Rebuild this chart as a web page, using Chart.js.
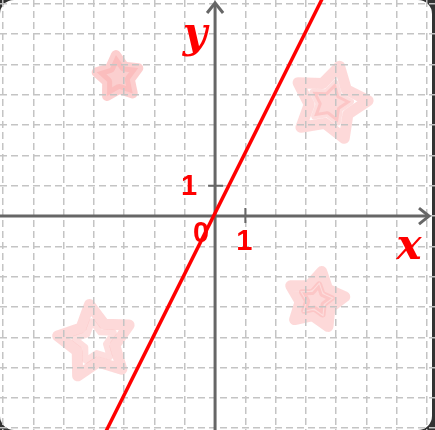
<!DOCTYPE html>
<html>
<head>
<meta charset="utf-8">
<script src="https://cdn.jsdelivr.net/npm/chart.js@4/dist/chart.umd.min.js"></script>
<style>
html,body{margin:0;padding:0;background:#fff;}
#wrap{width:435px;height:430px;}
</style>
</head>
<body>
<div id="wrap"><canvas id="c" width="435" height="430"></canvas></div>
<script>
// ---- data ----
const lineX = [-3.6, 3.6];
const lineY = [-7.1, 7.3];          // y = 2x + 0.1
const starX = [-3.2, 3.8, 3.33, -3.96];
const starY = [4.59, 3.73, -2.77, -4.16];
const tickLabels = ['0', '1', '1'];
const axisLabels = ['x', 'y'];
const xRange = [-7.1, 7.26];
const yRange = [-7.06, 7.13];

function starPath(ctx, cx, cy, R, r, rot) {
  ctx.beginPath();
  for (let i = 0; i < 10; i++) {
    const a = rot - Math.PI / 2 + i * Math.PI / 5;
    const rr = i % 2 ? r : R;
    const px = cx + rr * Math.cos(a), py = cy + rr * Math.sin(a);
    if (i === 0) ctx.moveTo(px, py); else ctx.lineTo(px, py);
  }
  ctx.closePath();
}

const bgPlugin = {
  id: 'bg',
  beforeDraw(chart) {
    const ctx = chart.ctx;
    const W = chart.width, H = chart.height;
    ctx.save();
    ctx.fillStyle = '#333';
    ctx.fillRect(0, 0, W, H);
    ctx.fillStyle = '#fff';
    ctx.beginPath();
    ctx.roundRect(0, 0, W - 3, H, 14);
    ctx.fill();
    // decorative stars (beneath grid)
    const xs = chart.scales.x, ys = chart.scales.y;
    const specs = [
      {R: 22, r: 12, rot: -0.1, kind: 'fill'},
      {R: 38, r: 21, rot: 0.25, kind: 'double'},
      {R: 29, r: 16, rot: 0.2, kind: 'double'},
      {R: 38, r: 20, rot: -0.15, kind: 'outline'}
    ];
    ctx.lineJoin = 'round';
    starX.forEach((sx, i) => {
      const cx = xs.getPixelForValue(sx), cy = ys.getPixelForValue(starY[i]);
      const s = specs[i];
      if (s.kind === 'fill') {
        starPath(ctx, cx, cy, s.R, s.r, s.rot);
        ctx.fillStyle = 'rgba(250,195,195,0.8)';
        ctx.fill();
        ctx.lineWidth = 10;
        ctx.strokeStyle = 'rgba(250,180,180,0.65)';
        ctx.stroke();
      } else {
        starPath(ctx, cx, cy, s.R, s.r, s.rot);
        ctx.lineWidth = 11;
        ctx.strokeStyle = 'rgba(250,170,170,0.45)';
        ctx.stroke();
        starPath(ctx, cx, cy, s.R * 0.55, s.r * 0.55, s.rot);
        if (s.kind === 'double') {
          ctx.fillStyle = 'rgba(250,170,170,0.45)';
          ctx.fill();
        }
        ctx.lineWidth = 6;
        ctx.strokeStyle = 'rgba(250,170,170,0.4)';
        ctx.stroke();
      }
    });
    ctx.restore();
  }
};

const axesPlugin = {
  id: 'axes',
  beforeDatasetsDraw(chart) {
    const ctx = chart.ctx;
    const xs = chart.scales.x, ys = chart.scales.y;
    const ox = xs.getPixelForValue(0), oy = ys.getPixelForValue(0);
    const x1 = xs.getPixelForValue(1), y1 = ys.getPixelForValue(1);
    ctx.save();
    ctx.strokeStyle = '#666';
    ctx.lineWidth = 3;
    ctx.lineCap = 'butt';
    ctx.beginPath();
    ctx.moveTo(0, oy); ctx.lineTo(chart.width - 6, oy);
    ctx.stroke();
    ctx.beginPath();
    ctx.moveTo(ox, chart.height); ctx.lineTo(ox, 3);
    ctx.stroke();
    ctx.lineJoin = 'miter';
    ctx.beginPath();
    ctx.moveTo(chart.width - 16, oy - 8); ctx.lineTo(chart.width - 6, oy); ctx.lineTo(chart.width - 16, oy + 8);
    ctx.stroke();
    ctx.beginPath();
    ctx.moveTo(ox - 8, 13); ctx.lineTo(ox, 3); ctx.lineTo(ox + 8, 13);
    ctx.stroke();
    ctx.lineWidth = 2;
    ctx.beginPath();
    ctx.moveTo(x1, oy - 8); ctx.lineTo(x1, oy + 7);
    ctx.moveTo(ox - 7, y1); ctx.lineTo(ox + 8, y1);
    ctx.stroke();
    ctx.restore();
  },
  afterDatasetsDraw(chart) {
    const ctx = chart.ctx;
    const xs = chart.scales.x, ys = chart.scales.y;
    const ox = xs.getPixelForValue(0), oy = ys.getPixelForValue(0);
    const x1 = xs.getPixelForValue(1), y1 = ys.getPixelForValue(1);
    ctx.save();
    ctx.fillStyle = '#f00';
    ctx.textAlign = 'center';
    ctx.textBaseline = 'middle';
    ctx.font = 'bold 29px "Liberation Sans", Arial, sans-serif';
    ctx.fillText(tickLabels[0], ox - 14, oy + 18);
    ctx.fillText(tickLabels[1], x1 - 1, oy + 26);
    ctx.fillText(tickLabels[2], ox - 26, y1 + 1);
    ctx.font = 'bold italic 42px "DejaVu Serif", serif';
    ctx.fillText(axisLabels[0], chart.width - 26, oy + 32);
    ctx.fillText(axisLabels[1], ox - 20, oy - 180);
    ctx.restore();
  }
};

const gridOpts = {
  color: '#c4c4c4',
  lineWidth: 1.5,
  drawTicks: false,
  tickLength: 0
};

new Chart(document.getElementById('c'), {
  type: 'scatter',
  data: {
    datasets: [{
      data: lineX.map((x, i) => ({x: x, y: lineY[i]})),
      showLine: true,
      borderColor: '#ff0000',
      borderWidth: 3.5,
      pointRadius: 0,
      fill: false
    }]
  },
  options: {
    responsive: false,
    animation: false,
    layout: {padding: 0},
    plugins: {legend: {display: false}, tooltip: {enabled: false}},
    scales: {
      x: {
        type: 'linear', min: xRange[0], max: xRange[1],
        ticks: {display: false, stepSize: 1, includeBounds: false, padding: 0},
        grid: gridOpts,
        border: {display: false, dash: [7, 4]}
      },
      y: {
        type: 'linear', min: yRange[0], max: yRange[1],
        ticks: {display: false, stepSize: 1, includeBounds: false, padding: 0},
        grid: gridOpts,
        border: {display: false, dash: [7, 4]}
      }
    }
  },
  plugins: [bgPlugin, axesPlugin]
});
</script>
</body>
</html>
